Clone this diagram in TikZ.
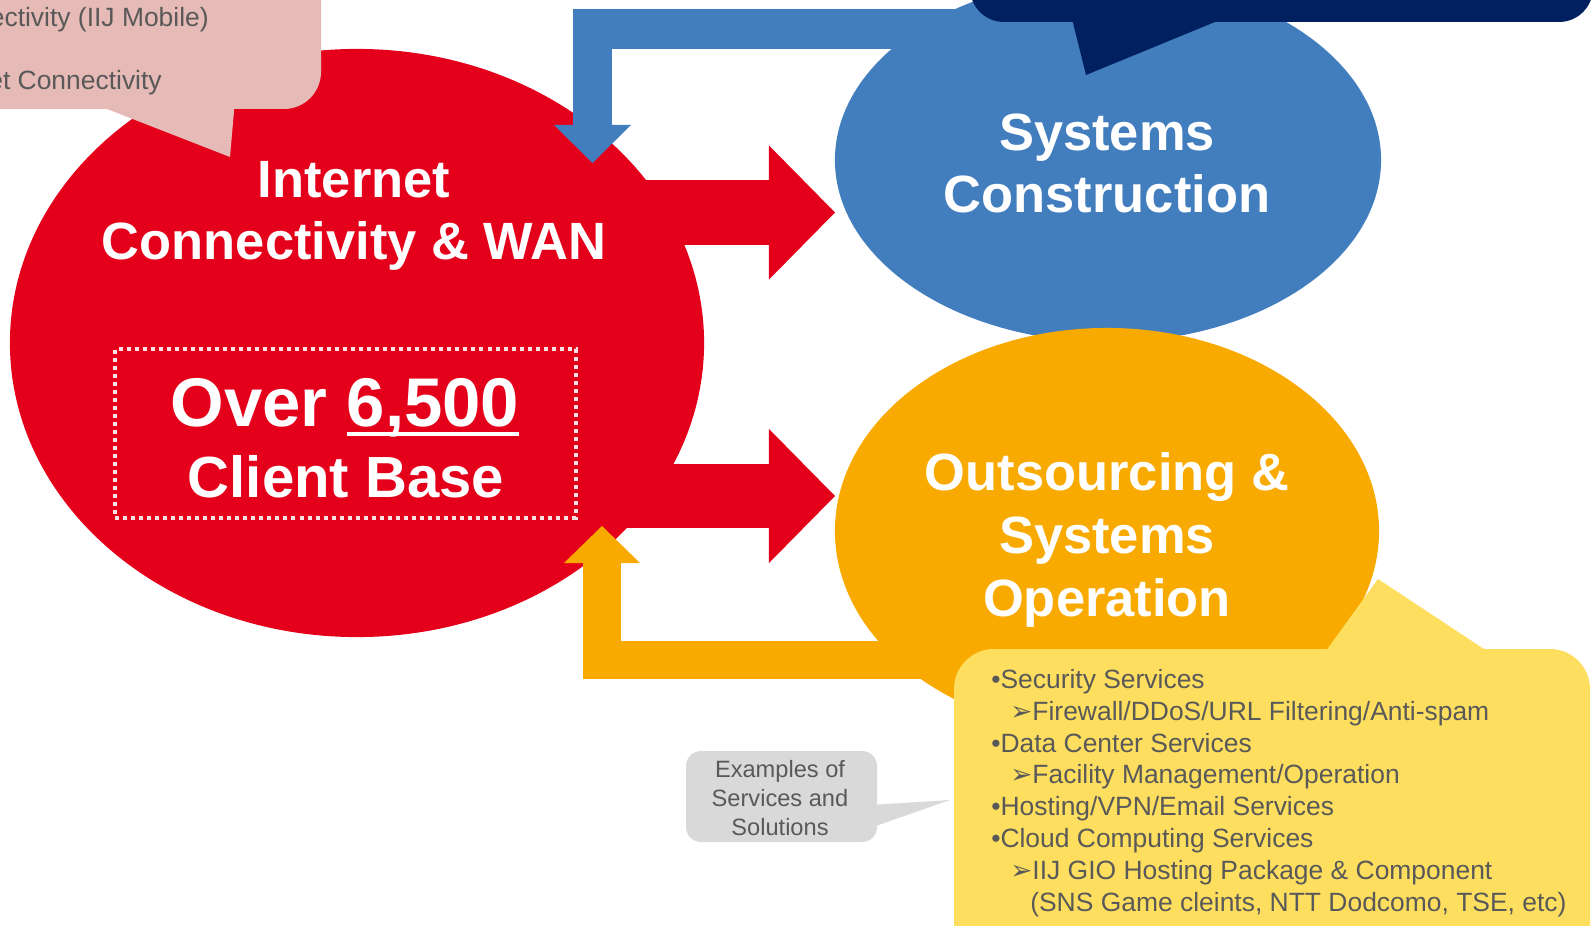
\documentclass[tikz,border=0pt]{standalone}
\usepackage{fontspec}
\setmainfont{Liberation Sans}
\newfontfamily\symfont{DejaVu Sans}
\usetikzlibrary{shapes.geometric, arrows.meta}
\definecolor{ired}{HTML}{E4001B}
\definecolor{iblue}{HTML}{427EBE}
\definecolor{inavy}{HTML}{002060}
\definecolor{iorange}{HTML}{F9AA00}
\definecolor{iyellow}{HTML}{FEDE5E}
\definecolor{ipink}{HTML}{E6BAB6}
\definecolor{igray}{HTML}{D9D9D9}
\definecolor{itext}{HTML}{595959}
\definecolor{idots}{HTML}{FCE0E3}
\newcommand{\ubar}[1]{\setbox0\hbox{#1}\rlap{\rule[-0.25cm]{\wd0}{0.1cm}}\box0}
\newcommand{\tipmark}{{\symfont ➢}}

\begin{document}
\begin{tikzpicture}[
  x=0.025cm, y=-0.025cm,
  blob/.style={ellipse, inner sep=0pt, outer sep=0pt},
  hdr/.style={text=white, align=center, inner sep=0pt,
              font=\fontsize{37.3}{44.8}\selectfont\bfseries},
  bigfig/.style={text=white, inner sep=0pt, font=\fontsize{49}{55}\selectfont\bfseries},
  midfig/.style={text=white, inner sep=0pt, font=\fontsize{41.3}{50}\selectfont\bfseries},
  dotbox/.style={draw=idots, line width=0.1cm, dash pattern=on 0.1cm off 0.1cm,
                 minimum width=11.5cm, minimum height=4.2cm, inner sep=0pt},
  listtxt/.style={text=itext, align=left, inner sep=0pt,
                  font=\fontsize{18.8}{22.6}\selectfont},
  pinktxt/.style={text=itext, inner sep=0pt, font=\fontsize{18.8}{22.8}\selectfont},
  notetxt/.style={text=itext, align=center, inner sep=0pt,
                  font=\fontsize{16.8}{20.3}\selectfont},
  redarr/.style={draw=ired, line width=1.6cm,
                 -{Triangle[length=1.65cm, width=3.35cm, line width=0pt]}},
  bluearr/.style={draw=iblue, line width=0.975cm,
                  -{Triangle[length=0.95cm, width=1.925cm, line width=0pt]}},
  orgarr/.style={draw=iorange, line width=0.95cm,
                 -{Triangle[length=0.925cm, width=1.9cm, line width=0pt]}},
]
  \useasboundingbox (0,0) rectangle (1594,926);
  \clip (0,0) rectangle (1594,926);

  % Network circle
  \node[blob, fill=ired, minimum width=17.35cm, minimum height=14.7cm] (inet) at (357,343) {};

  % Mobile note (cut at the edge)
  \fill[ipink, rounded corners=0.925cm] (-60,-60) rectangle (321,109);
  \fill[ipink] (107,100) -- (107,109) -- (230,157) -- (235,100) -- cycle;

  % Loop arrows
  \coordinate (bluestart) at (1000,29);
  \coordinate (blueend) at (592.5,163);
  \draw[bluearr] (bluestart) -| (blueend);

  \coordinate (redtop) at (600,212.5);
  \coordinate (redbot) at (600,496);
  \draw[redarr] (redtop) -- (redtop -| 835,0);
  \draw[redarr] (redbot) -- (redbot -| 835,0);

  \coordinate (orgstart) at (1000,660);
  \coordinate (orgend) at (602,526);
  \draw[orgarr] (orgstart) -| (orgend);

  % Service circles
  \node[blob, fill=iblue, minimum width=13.65cm, minimum height=9.1cm] (syscon) at (1108,160) {};
  \fill[inavy, rounded corners=0.85cm] (970,-60) rectangle (1593,22);
  \fill[inavy] (1071,15) -- (1086,75) -- (1232,15) -- cycle;
  \node[blob, fill=iorange, minimum width=13.6cm, minimum height=10.15cm] (outsrc) at (1107,531) {};

  % Service list
  \fill[iyellow, rounded corners=1cm] (954,649) rectangle (1590,990);
  \fill[iyellow] (1323,655) -- (1378,579) -- (1493,655) -- cycle;
  \fill[igray, rounded corners=0.375cm] (686,751) rectangle (877,842);
  \fill[igray] (870,805) -- (950,800) -- (870,828) -- cycle;

  % Labels
  \node[hdr, anchor=base] (inetlbl) at (354,260) {Internet\\Connectivity \& WAN};
  \node[dotbox] (clientbox) at (345.5,433.5) {};
  \node[bigfig, anchor=base] (overlbl) at (345,426) {Over \ubar{6,500}};
  \node[midfig, anchor=base] (baselbl) at (346,497) {Client Base};
  \node[hdr, anchor=base] (sysconlbl) at (1107,213) {Systems\\Construction};
  \node[hdr, anchor=base] (outsrclbl) at (1107,616) {Outsourcing \&\\Systems\\Operation};

  \node[pinktxt, anchor=base east] (mobile1) at (209,27) {ectivity (IIJ Mobile)};
  \node[pinktxt, anchor=base east] (mobile2) at (162,90) {et Connectivity};

  \node[listtxt, anchor=base west] (svclist) at (991,911) {%
    •Security Services\\
    \hspace*{0.475cm}\tipmark Firewall/DDoS/URL Filtering/Anti-spam\\
    •Data Center Services\\
    \hspace*{0.475cm}\tipmark Facility Management/Operation\\
    •Hosting/VPN/Email Services\\
    •Cloud Computing Services\\
    \hspace*{0.475cm}\tipmark IIJ GIO Hosting Package \& Component\\
    \hspace*{0.975cm}(SNS Game cleints, NTT Dodcomo, TSE, etc)};
  \node[notetxt, anchor=base] (examples) at (780,835) {Examples of\\Services and\\Solutions};

\end{tikzpicture}
\end{document}
